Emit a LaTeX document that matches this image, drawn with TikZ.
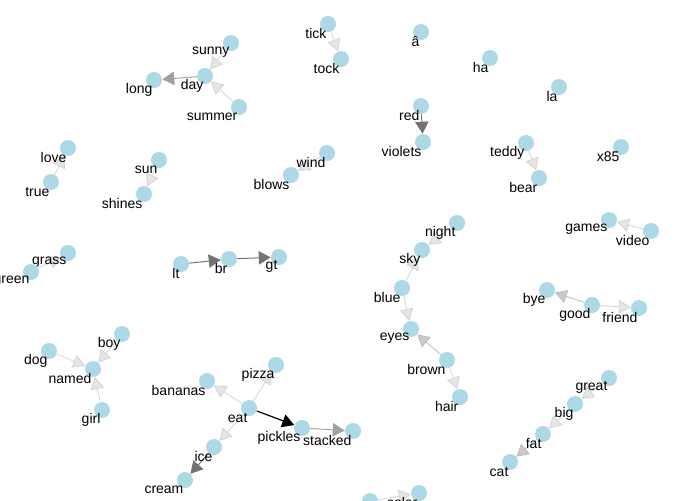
\documentclass[tikz,border=0pt]{standalone}
\usepackage{fontspec}
\setmainfont{Liberation Sans}
\usetikzlibrary{arrows.meta,backgrounds}
\definecolor{lblue}{HTML}{ADD8E6}
\definecolor{lite}{HTML}{D4D4D4}
\definecolor{mid}{HTML}{BDBDBD}
\definecolor{dim}{HTML}{A0A0A0}
\definecolor{dark}{HTML}{737373}
\tikzset{
  vtx/.style={circle, fill=lblue, minimum size=12pt, inner sep=0pt},
  lab/.style={anchor=east, inner sep=1pt, yshift=-1pt, text=black, font=\fontsize{10.5}{12}\selectfont},
  wlite/.style={draw=lite, line width=0.6pt, -{Triangle[length=9pt,width=10pt,fill=lite!60!white]}},
  wmid/.style={draw=mid, line width=0.6pt, -{Triangle[length=9pt,width=10pt,fill=mid!80!white]}},
  wdim/.style={draw=dim, line width=0.7pt, -{Triangle[length=9pt,width=10pt,fill=dim]}},
  wdark/.style={draw=dark, line width=0.75pt, -{Triangle[length=9pt,width=10pt,fill=dark]}},
  wblack/.style={draw=black, line width=0.9pt, -{Triangle[length=9pt,width=10pt,fill=black]}}
}
\begin{document}
\begin{tikzpicture}[x=0.75pt, y=-0.75pt]
\clip (0,0) rectangle (680,500);
\useasboundingbox (0,0) rectangle (680,500);

% day cluster
\node[vtx, label={[lab]south:sunny}] (sunny) at (231,43) {};
\node[vtx, label={[lab]south:day}] (day) at (205,76) {};
\node[vtx, label={[lab]south:long}] (long) at (154,80) {};
\node[vtx, label={[lab]south:summer}] (summer) at (239,107) {};
\node[vtx, label={[lab]south:tick}] (tick) at (328,24) {};
\node[vtx, label={[lab]south:tock}] (tock) at (341,59) {};
\node[vtx, label={[lab]south:love}] (love) at (68,148) {};
\node[vtx, label={[lab]south:true}] (true) at (51,182) {};
\node[vtx, label={[lab]south:sun}] (sun) at (159,160) {};
\node[vtx, label={[lab]south:shines}] (shines) at (144,194) {};
\node[vtx, label={[lab]south:wind}] (wind) at (327,153) {};
\node[vtx, label={[lab]south:blows}] (blows) at (291,175) {};
\node[vtx, label={[lab]south:grass}] (grass) at (68,253) {};
\node[vtx, label={[lab]south:green}] (green) at (31,272) {};

% top right
\node[vtx, label={[lab]south:â}] (acirc) at (421,32) {};
\node[vtx, label={[lab]south:ha}] (ha) at (490,58) {};
\node[vtx, label={[lab]south:la}] (la) at (559,87) {};
\node[vtx, label={[lab]south:red}] (red) at (421,106) {};
\node[vtx, label={[lab]south:violets}] (violets) at (423,142) {};
\node[vtx, label={[lab]south:teddy}] (teddy) at (526,143) {};
\node[vtx, label={[lab]south:bear}] (bear) at (539,178) {};
\node[vtx, label={[lab]south:x85}] (x85) at (621,147) {};
\node[vtx, label={[lab]south:games}] (games) at (609,220) {};
\node[vtx, label={[lab]south:video}] (video) at (651,231) {};

% sky and eyes
\node[vtx, label={[lab]south:night}] (night) at (457,223) {};
\node[vtx, label={[lab]south:sky}] (sky) at (422,250) {};
\node[vtx, label={[lab]south:blue}] (blue) at (402,288) {};
\node[vtx, label={[lab]south:eyes}] (eyes) at (411,329) {};
\node[vtx, label={[lab]south:brown}] (brown) at (447,360) {};
\node[vtx, label={[lab]south:hair}] (hair) at (460,397) {};
\node[vtx, label={[lab]south:bye}] (bye) at (547,290) {};
\node[vtx, label={[lab]south:good}] (good) at (592,305) {};
\node[vtx, label={[lab]south:friend}] (friend) at (639,308) {};
\node[vtx, label={[lab]south:great}] (great) at (609,378) {};
\node[vtx, label={[lab]south:big}] (big) at (575,404) {};
\node[vtx, label={[lab]south:fat}] (fat) at (543,434) {};
\node[vtx, label={[lab]south:cat}] (cat) at (510,462) {};
\node[vtx] (src) at (370,501) {};
\node[vtx, label={[lab]south:solar}] (solar) at (419,493) {};

% lower left
\node[vtx, label={[lab]south:lt}] (lt) at (181,264) {};
\node[vtx, label={[lab]south:br}] (br) at (229,259) {};
\node[vtx, label={[lab]south:gt}] (gt) at (279,257) {};
\node[vtx, label={[lab]south:boy}] (boy) at (122,334) {};
\node[vtx, label={[lab]south:dog}] (dog) at (49,351) {};
\node[vtx, label={[lab]south:named}] (named) at (93,369) {};
\node[vtx, label={[lab]south:girl}] (girl) at (102,410) {};
\node[vtx, label={[lab]south:pizza}] (pizza) at (276,365) {};
\node[vtx, label={[lab]south:bananas}] (bananas) at (207,381) {};
\node[vtx, label={[lab]south:eat}] (eat) at (249,408) {};
\node[vtx, label={[lab]south:pickles}] (pickles) at (302,428) {};
\node[vtx, label={[lab]south:stacked}] (stacked) at (353,431) {};
\node[vtx, label={[lab]south:ice}] (ice) at (214,447) {};
\node[vtx, label={[lab]south:cream}] (cream) at (185,480) {};

\begin{pgfonlayer}{background}
\draw[wlite] (sunny) -- (day);
\draw[wlite] (summer) -- (day);
\draw[wdim] (day) -- (long);
\draw[wlite] (tick) -- (tock);
\draw[wlite] (true) -- (love);
\draw[wlite] (sun) -- (shines);
\draw[wlite] (wind) -- (blows);
\draw[wlite] (green) -- (grass);
\draw[wdark] (red) -- (violets);
\draw[wlite] (teddy) -- (bear);
\draw[wlite] (video) -- (games);
\draw[wlite] (night) -- (sky);
\draw[wlite] (blue) -- (sky);
\draw[wlite] (blue) -- (eyes);
\draw[wmid] (brown) -- (eyes);
\draw[wlite] (brown) -- (hair);
\draw[wmid] (good) -- (bye);
\draw[wlite] (good) -- (friend);
\draw[wlite] (great) -- (big);
\draw[wlite] (big) -- (fat);
\draw[wmid] (fat) -- (cat);
\draw[wlite] (src) -- (solar);
\draw[wdark] (lt) -- (br);
\draw[wdark] (br) -- (gt);
\draw[wlite] (dog) -- (named);
\draw[wlite] (boy) -- (named);
\draw[wlite] (girl) -- (named);
\draw[wlite] (eat) -- (pizza);
\draw[wlite] (eat) -- (bananas);
\draw[wlite] (eat) -- (ice);
\draw[wblack] (eat) -- (pickles);
\draw[wdim] (pickles) -- (stacked);
\draw[wdark] (ice) -- (cream);
\end{pgfonlayer}
\end{tikzpicture}
\end{document}
